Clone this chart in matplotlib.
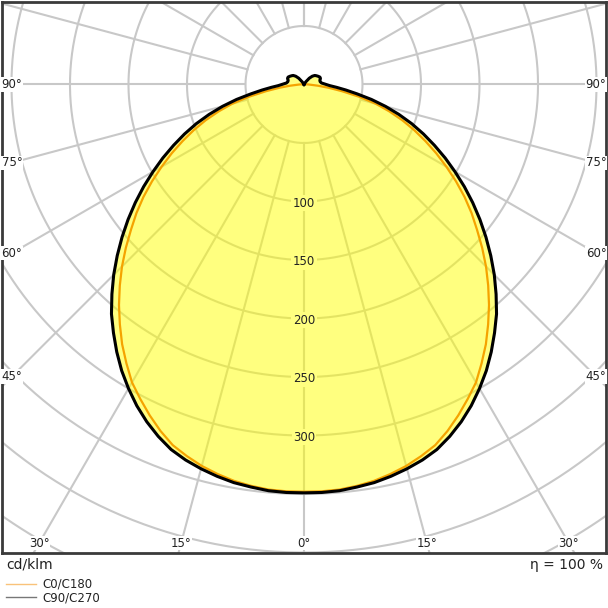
import numpy as np
import matplotlib
matplotlib.use("Agg")
import matplotlib.pyplot as plt
from matplotlib.lines import Line2D

# light distribution, cd/klm, gamma angle in degrees (0 = nadir, 180 = zenith)
gamma = np.array([0, 2.5, 5, 7.5, 10, 12.5, 15, 17.5, 20, 22.5, 25, 27.5, 30, 32.5,
                  35, 37.5, 40, 42.5, 45, 47.5, 50, 52.5, 55, 57.5, 60, 62.5, 65, 67.5,
                  70, 72.5, 75, 77.5, 80, 82.5, 85, 87.5, 90, 95, 100, 105, 110, 115,
                  120, 125, 130, 135, 140, 145, 150, 155, 160, 165, 170, 175, 180])
c0_c180 = [348, 348, 347.5, 346, 344, 341, 337.5, 333, 328, 320.5, 312, 303, 294, 282.5,
           271, 258.5, 246, 233, 220, 206.5, 193, 180.5, 167.5, 154, 140.5, 127.5, 114.5, 102,
           89.5, 76.5, 63.5, 48, 33, 21, 12, 6, 4, 2, 1, 0, 0, 0,
           0, 0, 0, 0, 0, 0, 0, 0, 0, 0, 0, 0, 0]
c90_c270 = [349, 349, 348.5, 347, 345.5, 343, 340, 336.5, 332, 325.5, 318, 309.5, 300, 290,
            279, 267.5, 256, 243, 230, 216.5, 203, 189.5, 176, 162.5, 149, 136, 123, 110.5,
            98, 85, 72, 59, 46, 36, 28, 22, 19, 15, 14, 14, 15, 15,
            14, 13, 12, 10, 7, 3, 1, 0, 0, 0, 0, 0, 0]

grid_radii = [50, 100, 150, 200, 250, 300, 350, 400, 450, 500]
spoke_angles = np.arange(-180, 181, 15)
radial_labels = [100, 150, 200, 250, 300]
angle_labels = [0, 15, 30, 45, 60, 75, 90]

FILL = "#ffff80"
ORANGE = "#f5a300"


def to_xy(theta_deg, r):
    t = np.radians(theta_deg)
    return r * np.sin(t), -r * np.cos(t)


def full_curve(values):
    vals = np.asarray(values, dtype=float)
    theta = np.concatenate([-gamma[::-1], gamma[1:]])
    r = np.concatenate([vals[::-1], vals[1:]])
    return to_xy(theta, r)


fig = plt.figure(figsize=(6.08, 6.08), dpi=100)
ax = fig.add_axes([2 / 608, 55 / 608, 604 / 608, 551 / 608])
ax.set_xlim(-258.1, 258.1)
ax.set_ylim(-400.4, 70.5)
ax.set_xticks([])
ax.set_yticks([])
for sp in ax.spines.values():
    sp.set_color("#3a3a3a")
    sp.set_linewidth(2)

# polar grid
circ = np.linspace(0, 360, 721)
for rr in grid_radii:
    x, y = to_xy(circ, rr)
    ax.plot(x, y, color="#c8c8c8", lw=1.5, zorder=1)
for a in spoke_angles:
    x, y = to_xy(np.array([a, a]), np.array([50, 700]))
    ax.plot(x, y, color="#c8c8c8", lw=1.5, zorder=1)

# curves
x90, y90 = full_curve(c90_c270)
x0, y0 = full_curve(c0_c180)
ax.fill(x90, y90, color="yellow", alpha=0.5, lw=0, zorder=2)
ax.plot(x0, y0, color=ORANGE, lw=1.6, zorder=3, solid_joinstyle="round")
ax.plot(x90, y90, color="black", lw=2.2, zorder=4, solid_joinstyle="round")

# radial labels
for v in radial_labels:
    ax.text(0, -v - 1.5, str(v), ha="center", va="center", fontsize=8.5, color="#222222",
            zorder=5, bbox=dict(facecolor=FILL, edgecolor="none", pad=1.0))

# angle labels along an inset rectangle
x_in, y_in = 249.6, 391.9
for a in angle_labels:
    for side in ([1] if a == 0 else [-1, 1]):
        s, c = np.sin(np.radians(a)), np.cos(np.radians(a))
        t = min(x_in / s if s > 1e-9 else np.inf, y_in / c if c > 1e-9 else np.inf)
        ax.text(side * t * s, -t * c, f"{a}°", ha="center", va="center", fontsize=8.5,
                color="#222222", zorder=5,
                bbox=dict(facecolor="white", edgecolor="none", pad=0.5))

fig.text(6 / 608, 1 - 565 / 608, "cd/klm", ha="left", va="center", fontsize=10, color="#222222")
fig.text(603 / 608, 1 - 565 / 608, "η = 100 %", ha="right", va="center", fontsize=10,
         color="#222222")

handles = [Line2D([], [], color="#f9c27a", lw=1.0), Line2D([], [], color="#777777", lw=1.0)]
fig.legend(handles, ["C0/C180", "C90/C270"], loc="center left",
           bbox_to_anchor=(6 / 608, 1 - 591 / 608), frameon=False, fontsize=8.5,
           handlelength=2.5, handletextpad=0.6, labelspacing=0.05, borderpad=0,
           borderaxespad=0, labelcolor="#222222")

fig.savefig("out.png", dpi=100)
